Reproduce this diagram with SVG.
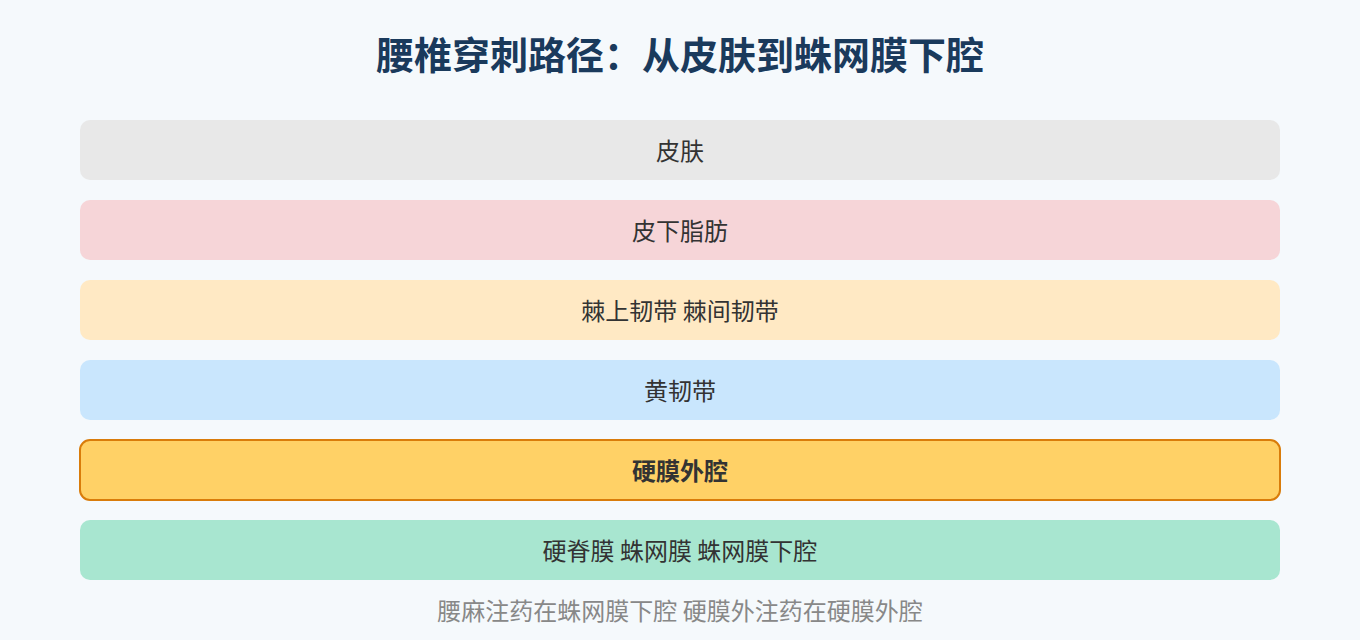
<svg xmlns="http://www.w3.org/2000/svg" width="1360" height="640" viewBox="0 0 1360 640">
<style>
.t{font-family:"Noto Sans CJK SC","Noto Sans",sans-serif;text-anchor:middle;}
.lbl{font-size:24px;fill:#333333;}
.title{font-size:38px;font-weight:bold;fill:#1a3a5c;}
.foot{font-size:24px;fill:#888888;}
.box{stroke:none;}
</style>
<rect width="1360" height="640" fill="#f5f9fc"/>
<text class="t title" x="680" y="69">腰椎穿刺路径：从皮肤到蛛网膜下腔</text>
<g id="connectors"></g>
<g id="n1"><rect class="box" x="80" y="120" width="1200" height="60" rx="10" fill="#e8e8e8"/><text class="t lbl" x="680" y="160">皮肤</text></g>
<g id="n2"><rect class="box" x="80" y="200" width="1200" height="60" rx="10" fill="#f6d5d8"/><text class="t lbl" x="680" y="240">皮下脂肪</text></g>
<g id="n3"><rect class="box" x="80" y="280" width="1200" height="60" rx="10" fill="#ffe9c4"/><text class="t lbl" x="680" y="320">棘上韧带 棘间韧带</text></g>
<g id="n4"><rect class="box" x="80" y="360" width="1200" height="60" rx="10" fill="#c9e6fd"/><text class="t lbl" x="680" y="400">黄韧带</text></g>
<g id="n5"><rect x="80" y="440" width="1200" height="60" rx="10" fill="#ffd166" stroke="#d97c0a" stroke-width="2"/><text class="t lbl" x="680" y="480" font-weight="bold">硬膜外腔</text></g>
<g id="n6"><rect class="box" x="80" y="520" width="1200" height="60" rx="10" fill="#a8e6d0"/><text class="t lbl" x="680" y="560">硬脊膜 蛛网膜 蛛网膜下腔</text></g>
<text class="t foot" x="680" y="620">腰麻注药在蛛网膜下腔 硬膜外注药在硬膜外腔</text>
</svg>
